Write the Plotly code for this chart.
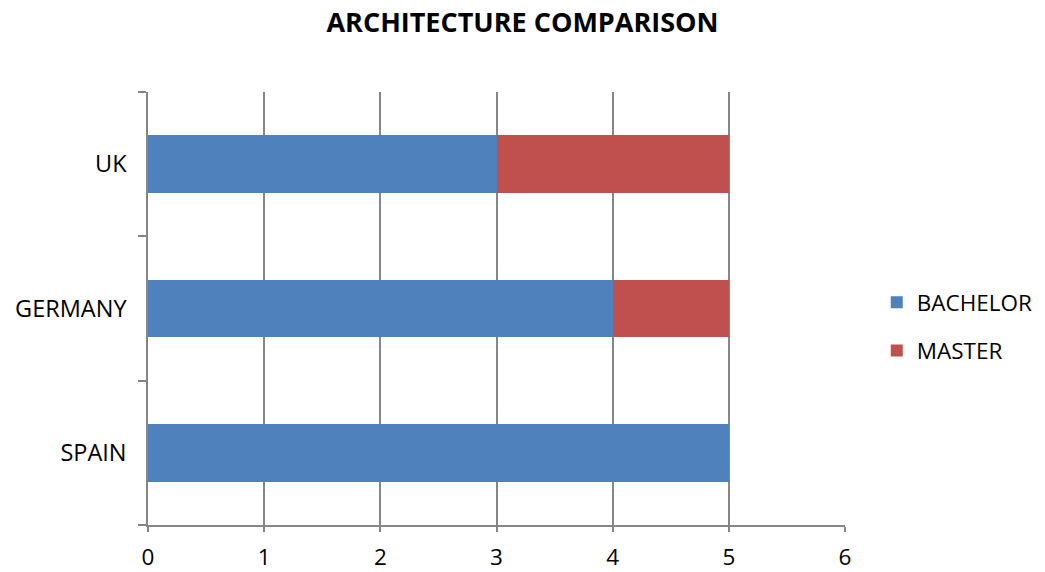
import plotly.graph_objects as go

countries = ["SPAIN", "GERMANY", "UK"]
bachelor = [5, 4, 3]
master = [0, 1, 2]
x_ticks = [0, 1, 2, 3, 4, 5, 6]

FONT = "Open Sans"
AXIS_GRAY = "#868686"

fig = go.Figure()
fig.add_trace(go.Bar(
    y=countries, x=bachelor, name="BACHELOR", orientation="h",
    marker=dict(color="#4F81BD", line=dict(width=0)), legendgroup="b",
))
fig.add_trace(go.Bar(
    y=countries, x=master, name="MASTER", orientation="h",
    marker=dict(color="#C0504D", line=dict(width=0)), legendgroup="m",
))

fig.update_layout(
    width=1045, height=572,
    barmode="stack", bargap=0.6,
    paper_bgcolor="white", plot_bgcolor="white",
    margin=dict(l=148, r=200, t=92, b=47, autoexpand=False),
    font=dict(family=FONT, size=23, color="black"),
    title=dict(
        text="<b>ARCHITECTURE COMPARISON</b>",
        x=0.5, xanchor="center", xref="container",
        y=0.96, yanchor="middle",
        font=dict(family=FONT, size=27, color="black"),
    ),
    legend=dict(
        xref="container", yref="container",
        x=0.839, xanchor="left", y=0.429, yanchor="middle",
        traceorder="grouped", tracegroupgap=16,
        font=dict(family=FONT, size=22.5, color="black"),
        itemwidth=30,
    ),
    xaxis=dict(
        range=[0, 6], tickvals=x_ticks, automargin=False,
        showgrid=True, gridcolor=AXIS_GRAY, gridwidth=1.5,
        showline=True, linecolor=AXIS_GRAY, linewidth=1.5,
        ticks="outside", ticklen=5, tickcolor=AXIS_GRAY, tickwidth=1.5,
        zeroline=False, fixedrange=True, ticklabelstandoff=6,
        tickfont=dict(family=FONT, size=22.5),
    ),
    yaxis=dict(
        categoryorder="array", categoryarray=countries, automargin=False,
        showline=True, linecolor=AXIS_GRAY, linewidth=1.5,
        ticks="outside", tickson="boundaries", ticklen=8,
        tickcolor=AXIS_GRAY, tickwidth=1.5,
        showgrid=False, zeroline=False, ticklabelstandoff=15,
        tickfont=dict(family=FONT, size=23.5),
    ),
)

fig.write_html("out.html")
